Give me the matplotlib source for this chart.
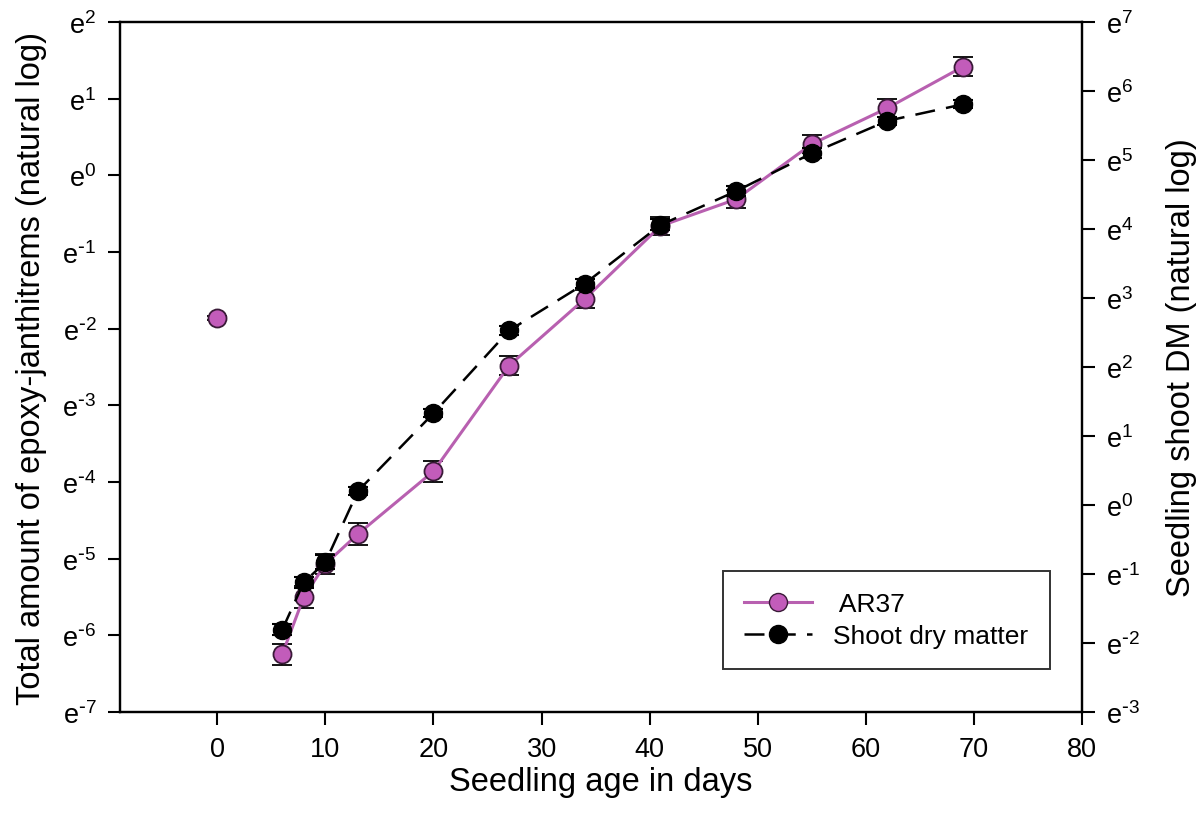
import matplotlib.pyplot as plt
import numpy as np

plt.rcParams['font.family'] = ['Liberation Sans', 'DejaVu Sans']

# ---------------------------
# data (natural log values)
days_ar37 = [0, 6, 8, 10, 13, 20, 27, 34, 41, 48, 55, 62, 69]
ar37_ln = [-1.86, -6.25, -5.50, -5.07, -4.68, -3.86, -2.48, -1.61, -0.66, -0.31, 0.41, 0.88, 1.42]
ar37_err = [0.03, 0.14, 0.14, 0.13, 0.14, 0.14, 0.12, 0.12, 0.12, 0.12, 0.12, 0.12, 0.12]

days_dm = [6, 8, 10, 13, 20, 27, 34, 41, 48, 55, 62, 69]
dm_ln = [-1.81, -1.12, -0.83, 0.20, 1.33, 2.53, 3.21, 4.06, 4.55, 5.10, 5.57, 5.81]
dm_err = [0.08, 0.08, 0.10, 0.06, 0.06, 0.07, 0.07, 0.08, 0.07, 0.07, 0.06, 0.06]

left_ticks = list(range(-7, 3))
right_ticks = list(range(-3, 8))
x_ticks = list(range(0, 90, 10))

pink = "#C25CBA"
pink_line = "#B860B0"


def e_label(t):
    s = str(t).replace("-", r"\text{-}")
    return r"$\mathregular{e^{%s}}$" % s


fig = plt.figure(figsize=(12.04, 8.28), dpi=100)
ax = fig.add_axes([0.0997, 0.139, 0.799, 0.833])
ax2 = ax.twinx()

# AR37: day 0 not joined to the rest
ax.errorbar(days_ar37[1:], ar37_ln[1:], yerr=ar37_err[1:], color=pink_line, lw=2.2,
            marker="o", ms=13, mfc=pink, mec="#3a1a38", mew=1.3,
            ecolor="black", elinewidth=1.3, capsize=7.5, capthick=1.5, zorder=3)
ax.errorbar(days_ar37[:1], ar37_ln[:1], yerr=ar37_err[:1], ls="none",
            marker="o", ms=13, mfc=pink, mec="#3a1a38", mew=1.3,
            ecolor="black", elinewidth=1.3, capsize=7.5, capthick=1.5, zorder=3)

ax2.errorbar(days_dm, dm_ln, yerr=dm_err, color="black", lw=1.8, ls=(0, (8, 4.5)),
             marker="o", ms=13, mfc="black", mec="black",
             ecolor="black", elinewidth=1.3, capsize=7.5, capthick=1.5, zorder=3)

ax.set_xlim(-9, 80)
ax.set_ylim(-7, 2)
ax2.set_ylim(-3, 7)

ax.set_xticks(x_ticks)
ax.set_yticks(left_ticks)
ax.set_yticklabels([e_label(t) for t in left_ticks])
ax2.set_yticks(right_ticks)
ax2.set_yticklabels([e_label(t) for t in right_ticks])

for a in (ax, ax2):
    a.tick_params(direction="out", length=9, width=1.5, labelsize=19.5, pad=8)
    for s in a.spines.values():
        s.set_linewidth(1.6)

ax.set_xlabel("Seedling age in days", fontsize=23.5, labelpad=3)
ax.set_ylabel("Total amount of epoxy-janthitrems (natural log)", fontsize=23.5, labelpad=11)
ax2.set_ylabel("Seedling shoot DM (natural log)", fontsize=23.5, labelpad=19)

h1 = plt.Line2D([], [], color=pink_line, lw=2.2, marker="o", ms=13, mfc=pink, mec="#3a1a38")
h2 = plt.Line2D([], [], color="black", lw=1.8, ls=(0, (8, 4.5)), marker="o", ms=13, mfc="black")
leg = ax2.legend([h1, h2], [" AR37", "Shoot dry matter"], loc="lower right",
                 bbox_to_anchor=(0.98, 0.043), fontsize=19, frameon=True, fancybox=False,
                 edgecolor="black", handlelength=2.6, borderpad=0.8, labelspacing=0.3)
leg.get_frame().set_linewidth(1.4)

fig.savefig("out.png", dpi=100)
